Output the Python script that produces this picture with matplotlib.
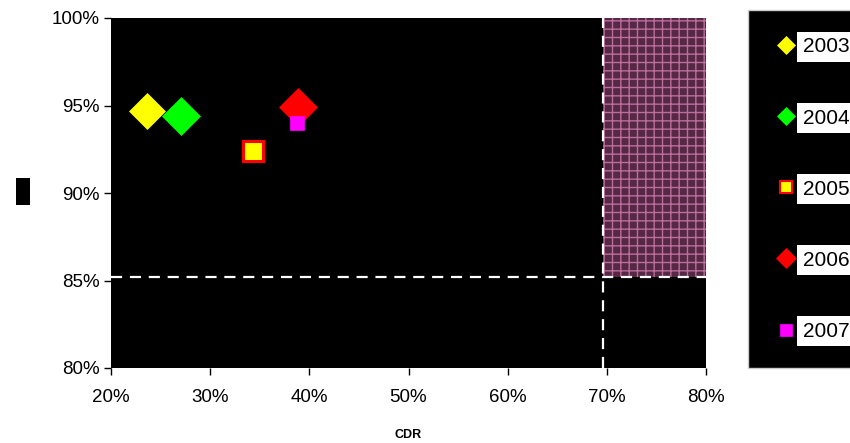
import matplotlib
matplotlib.use("Agg")
import matplotlib.pyplot as plt
from matplotlib.lines import Line2D
from matplotlib.patches import Rectangle

plt.rcParams['font.family'] = ['Liberation Sans', 'DejaVu Sans']
plt.rcParams['hatch.linewidth'] = 1.0

years = ["2003", "2004", "2005", "2006", "2007"]
cdr = [23.6, 27.1, 34.3, 38.85, 38.75]
rate = [94.7, 94.4, 92.4, 94.9, 94.0]
markers = ["D", "D", "s", "D", "s"]
faces = ["#ffff00", "#00ff00", "#ffff00", "#ff0000", "#ff00ff"]
edges = ["#ffff00", "#00ff00", "#ff0000", "#ff0000", "#ff00ff"]
sizes = [18.5, 19, 15, 19, 10]
edge_w = [0.5, 0.5, 2.2, 0.5, 0.5]

cdr_target = 69.6
rate_target = 85.2
xlim = (20, 80)
ylim = (80, 100)
xticks = [20, 30, 40, 50, 60, 70, 80]
yticks = [80, 85, 90, 95, 100]

fig = plt.figure(figsize=(8.5, 4.43), dpi=100)
ax = fig.add_axes([111/850, 75/443, 595/850, 350/443])
ax.set_facecolor("black")
ax.set_xlim(*xlim)
ax.set_ylim(*ylim)

ax.fill_between([cdr_target, xlim[1]], rate_target, ylim[1],
                facecolor="#552845", edgecolor="#bb6d9b", hatch="++",
                linewidth=0, zorder=1)
ax.axvline(cdr_target, color="white", lw=1.6, dashes=(5, 3.5), zorder=2)
ax.axhline(rate_target, color="white", lw=1.6, dashes=(5, 3.5), zorder=2)

for i in range(len(years)):
    ax.plot(cdr[i], rate[i], marker=markers[i], markersize=sizes[i],
            markerfacecolor=faces[i], markeredgecolor=edges[i],
            markeredgewidth=edge_w[i], linestyle="none", zorder=3)

ax.set_xticks(xticks)
ax.set_xticklabels([f"{v}%" for v in xticks], fontsize=13.5)
ax.set_yticks(yticks)
ax.set_yticklabels([f"{v}%" for v in yticks], fontsize=13.5)
ax.tick_params(direction="out", length=5, width=1, colors="black", pad=3)
ax.tick_params(axis="x", pad=10)
for s in ax.spines.values():
    s.set_visible(False)

ax.set_xlabel("CDR", fontsize=9, fontweight="bold", labelpad=17)

# y label block
fig.patches.append(Rectangle((16/850, 1 - 205/443), 14/850, 27/443,
                             transform=fig.transFigure, facecolor="black",
                             edgecolor="none"))

handles = []
leg_sizes = [9.5, 9.5, 8, 10, 9]
for i in range(len(years)):
    handles.append(Line2D([], [], marker=markers[i], markersize=leg_sizes[i],
                          markerfacecolor=faces[i], markeredgecolor=edges[i],
                          markeredgewidth=1.5 if i == 2 else 0.5,
                          linestyle="none"))
leg = fig.legend(handles, years, loc="upper left",
                 bbox_to_anchor=(748/850, 1 - 10/443), fontsize=15,
                 frameon=True, fancybox=False, facecolor="black",
                 framealpha=1, edgecolor="#cccccc", labelspacing=2.5,
                 handlelength=1.0, handletextpad=0.32, borderpad=1.32,
                 borderaxespad=0)
leg.get_frame().set_linewidth(1)
for t in leg.get_texts():
    t.set_bbox(dict(facecolor="white", edgecolor="none", pad=4))

fig.savefig("out.png", dpi=100)
